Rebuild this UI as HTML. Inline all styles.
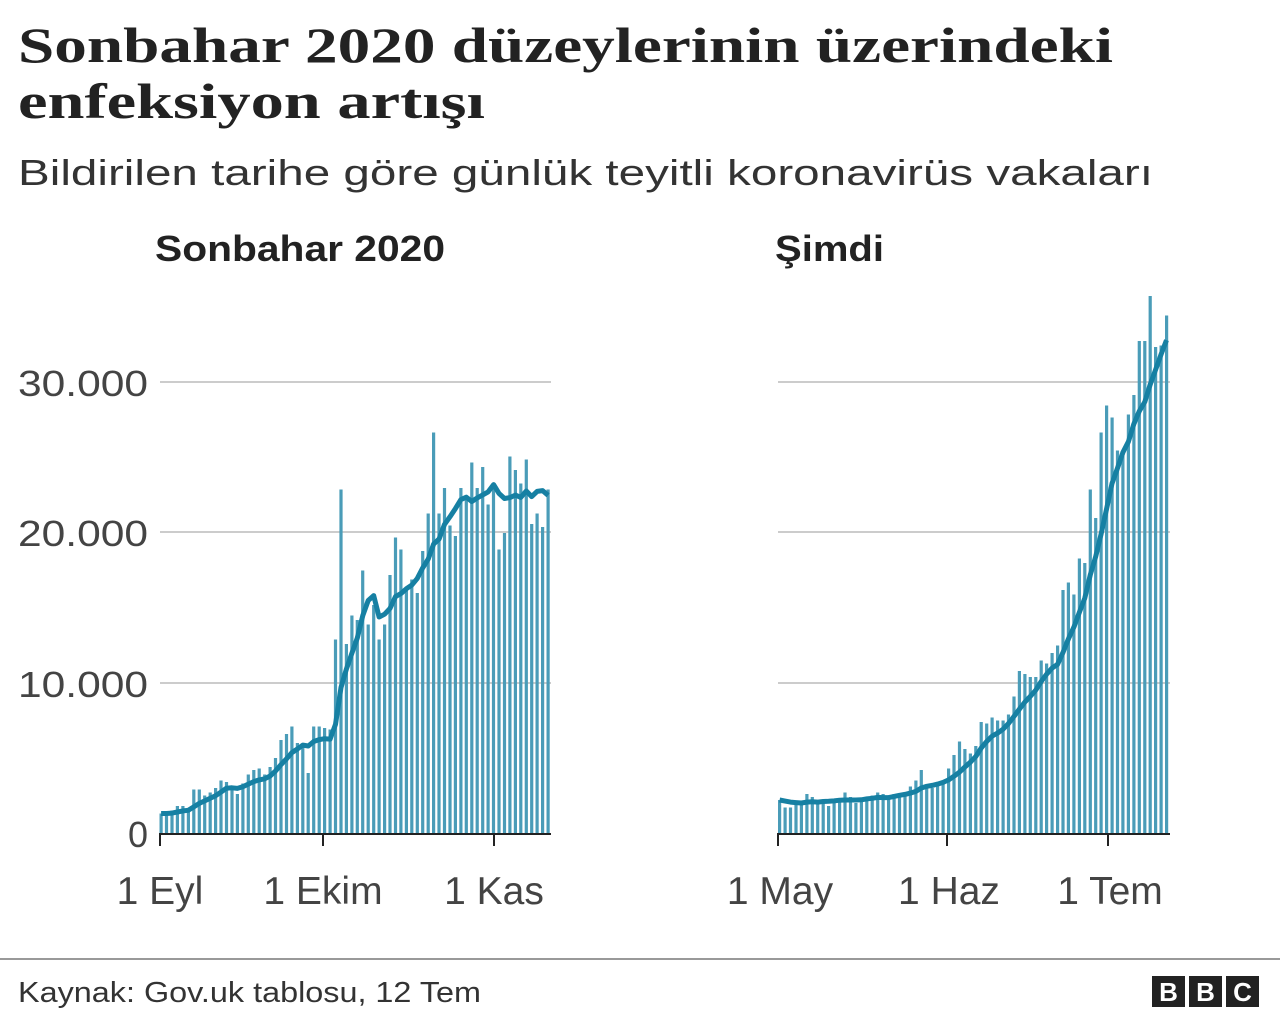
<!DOCTYPE html>
<html><head><meta charset="utf-8"><style>
body{margin:0;width:1280px;height:1028px;background:#fff;overflow:hidden;font-family:"Liberation Sans",sans-serif;}
svg text{font-family:"Liberation Sans",sans-serif;}
</style></head><body>
<svg id="s" width="1280" height="1028" xmlns="http://www.w3.org/2000/svg">
<text x="18" y="62" font-weight="bold" font-size="50" fill="#222" style="font-family:'Liberation Serif',serif" textLength="1095" lengthAdjust="spacingAndGlyphs">Sonbahar 2020 düzeylerinin üzerindeki</text>
<text x="18" y="118" font-weight="bold" font-size="50" fill="#222" style="font-family:'Liberation Serif',serif" textLength="467" lengthAdjust="spacingAndGlyphs">enfeksiyon artışı</text>
<text x="18" y="185" font-size="36" fill="#333" textLength="1135" lengthAdjust="spacingAndGlyphs">Bildirilen tarihe göre günlük teyitli koronavirüs vakaları</text>
<text x="155" y="261" font-weight="bold" font-size="36" fill="#222" textLength="290" lengthAdjust="spacingAndGlyphs">Sonbahar 2020</text>
<text x="775" y="261" font-weight="bold" font-size="36" fill="#222" textLength="109" lengthAdjust="spacingAndGlyphs">Şimdi</text>
<g stroke="#ccc" stroke-width="2">
<line x1="160" y1="382" x2="551" y2="382"/><line x1="160" y1="532" x2="551" y2="532"/><line x1="160" y1="683" x2="551" y2="683"/>
<line x1="778" y1="382" x2="1170" y2="382"/><line x1="778" y1="532" x2="1170" y2="532"/><line x1="778" y1="683" x2="1170" y2="683"/>
</g>
<g font-size="36" fill="#444" text-anchor="end">
<text x="148" y="396" textLength="130" lengthAdjust="spacingAndGlyphs">30.000</text><text x="148" y="546" textLength="130" lengthAdjust="spacingAndGlyphs">20.000</text><text x="148" y="697" textLength="130" lengthAdjust="spacingAndGlyphs">10.000</text><text x="148" y="847">0</text>
</g>
<g id="bars" fill="#4a9cb8"></g>
<g id="lines" fill="none" stroke="#1680a3" stroke-width="5" stroke-linejoin="round"></g>
<g stroke="#222" stroke-width="2">
<line x1="159" y1="834" x2="551" y2="834"/><line x1="160" y1="834" x2="160" y2="846"/><line x1="323" y1="834" x2="323" y2="846"/><line x1="494" y1="834" x2="494" y2="846"/>
<line x1="777" y1="834" x2="1170" y2="834"/><line x1="778" y1="834" x2="778" y2="846"/><line x1="947" y1="834" x2="947" y2="846"/><line x1="1108" y1="834" x2="1108" y2="846"/>
</g>
<g font-size="39" fill="#444" text-anchor="middle">
<text x="160" y="904">1 Eyl</text><text x="323" y="904">1 Ekim</text><text x="494" y="904">1 Kas</text>
<text x="780" y="904">1 May</text><text x="949" y="904">1 Haz</text><text x="1110" y="904">1 Tem</text>
</g>
<line x1="0" y1="959" x2="1280" y2="959" stroke="#999" stroke-width="2"/>
<text x="18" y="1002" font-size="29" fill="#333" textLength="463" lengthAdjust="spacingAndGlyphs">Kaynak: Gov.uk tablosu, 12 Tem</text>
<g fill="#222"><rect x="1152" y="976" width="33" height="31"/><rect x="1189" y="976" width="33" height="31"/><rect x="1226" y="976" width="33" height="31"/></g>
<g fill="#fff" font-weight="bold" font-size="26" text-anchor="middle"><text x="1168.5" y="1001">B</text><text x="1205.5" y="1001">B</text><text x="1242.5" y="1001">C</text></g>
</svg>
<script>
var L=[1.3,1.3,1.5,1.8,1.8,1.6,2.9,2.9,2.5,2.7,3.0,3.5,3.4,3.1,2.6,3.3,3.9,4.2,4.3,3.9,4.4,5.0,6.2,6.6,7.1,6.0,5.7,4.0,7.1,7.1,
7.0,6.9,12.9,22.9,12.6,14.5,14.2,17.5,13.9,15.2,12.9,13.9,17.2,19.7,18.9,16.2,16.9,16.0,18.8,21.3,26.7,21.3,23.0,20.5,19.8,23.0,22.4,24.7,23.0,24.4,21.9,
23.2,18.9,20.0,25.1,24.2,23.3,24.9,20.6,21.3,20.4,22.9];
var R=[2.2,1.7,1.7,2.0,2.0,2.6,2.4,2.0,2.0,1.8,2.2,2.3,2.7,2.4,2.0,2.1,2.2,2.5,2.7,2.6,2.4,2.6,2.6,2.6,3.1,3.5,4.2,3.2,3.0,3.2,3.4,
4.3,5.2,6.1,5.6,5.3,5.8,7.4,7.3,7.7,7.5,7.5,7.9,9.1,10.8,10.6,10.4,10.4,11.5,11.3,12.0,12.5,16.2,16.7,15.9,18.3,18.0,22.9,21.0,26.7,
28.5,27.7,25.5,25.3,27.9,29.2,32.8,32.8,35.8,32.4,32.5,34.5];
var NS="http://www.w3.org/2000/svg",bg=document.getElementById("bars"),lg=document.getElementById("lines");
function draw(d,x0,st){var pts=[];for(var i=0;i<d.length;i++){var x=x0+i*st,h=d[i]*15;
var r=document.createElementNS(NS,"rect");r.setAttribute("x",x.toFixed(1));r.setAttribute("y",(833-h).toFixed(1));r.setAttribute("width","3.2");r.setAttribute("height",h.toFixed(1));bg.appendChild(r);
var s=0,n=0;for(var j=i-6;j<=i;j++){s+=d[Math.max(0,j)];n++;}var a=s/n;
pts.push((x+1.6).toFixed(1)+","+(833-a*15).toFixed(1));}
var p=document.createElementNS(NS,"polyline");p.setAttribute("points",pts.join(" "));lg.appendChild(p);}
draw(L,159.5,5.45);draw(R,778,5.45);
</script>
</body></html>
